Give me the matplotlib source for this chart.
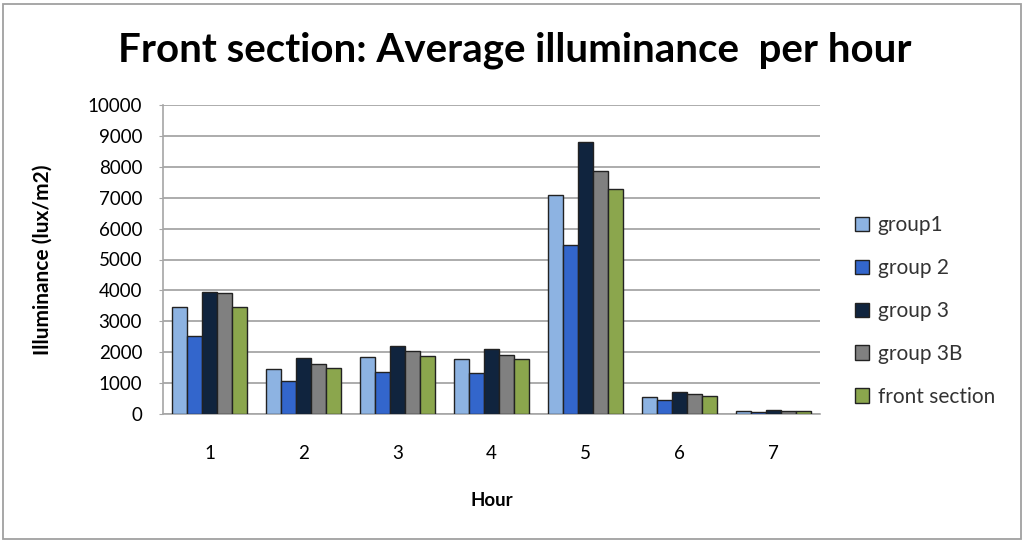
import matplotlib
matplotlib.use("Agg")
import matplotlib.pyplot as plt
from matplotlib.patches import Rectangle
import numpy as np

hours = ["1", "2", "3", "4", "5", "6", "7"]
series_names = ["group1", "group 2", "group 3", "group 3B", "front section"]
group1 = [3470, 1470, 1840, 1780, 7100, 550, 100]
group2 = [2510, 1060, 1350, 1320, 5460, 440, 65]
group3 = [3950, 1810, 2210, 2100, 8810, 700, 140]
group3b = [3900, 1610, 2040, 1920, 7850, 640, 100]
front_section = [3460, 1500, 1870, 1780, 7280, 580, 100]
colors = ["#8DB3E2", "#3366CC", "#10243E", "#808080", "#8BA64D"]

series = [group1, group2, group3, group3b, front_section]

title_font = ["Lato", "DejaVu Sans"]
body_font = ["Lato", "DejaVu Sans"]

fig = plt.figure(figsize=(10.23, 5.41), dpi=100)
ax = fig.add_axes([163 / 1023, 1 - 414 / 541, (820 - 163) / 1023, (414 - 105) / 541])

x = np.arange(len(hours))
bar_w = 0.16
for i, (vals, name, c) in enumerate(zip(series, series_names, colors)):
    ax.bar(x + (i - 2) * bar_w, vals, width=bar_w, color=c,
           edgecolor="#222222", linewidth=1.0, label=name, zorder=3)

ax.set_xlim(-0.5, len(hours) - 0.5)
ax.set_ylim(0, 10000)
ax.set_yticks(np.arange(0, 10001, 1000))
ax.set_xticks(x)
ax.set_xticklabels(hours)
ax.yaxis.grid(True, color="#A6A6A6", linewidth=1.3, zorder=0)
for side in ["top", "right"]:
    ax.spines[side].set_visible(False)
ax.spines["left"].set_color("#A6A6A6")
ax.spines["bottom"].set_color("#A6A6A6")
ax.spines["left"].set_linewidth(1.2)
ax.spines["bottom"].set_linewidth(1.2)
ax.tick_params(axis="y", length=3, color="#A6A6A6", labelsize=13.5, pad=12)
ax.tick_params(axis="x", length=0, labelsize=13.5, pad=22)
for lab in ax.get_xticklabels() + ax.get_yticklabels():
    lab.set_family(body_font)

ax.set_xlabel("Hour", fontsize=13.5, fontweight="bold", family=body_font, labelpad=22)
ax.set_ylabel("Illuminance (lux/m2)", fontsize=15, fontweight="bold",
              family=body_font)
ax.yaxis.set_label_coords((53 - 163) / 657, 0.5)

fig.text(0.503, 1 - 50 / 541, "Front section: Average illuminance  per hour",
         ha="center", va="center", fontsize=29, fontweight="bold", family=title_font)

leg = fig.legend(loc="center left", bbox_to_anchor=(836 / 1023, 1 - 311 / 541),
                 frameon=False, prop={"family": body_font, "size": 15},
                 handlelength=0.68, handleheight=0.68, handletextpad=0.42,
                 labelspacing=1.1)
for t in leg.get_texts():
    t.set_color("#333333")

fig.patches.append(Rectangle((3 / 1023, 2 / 541), 1018 / 1023, 535 / 541,
                             transform=fig.transFigure, fill=False,
                             edgecolor="#A0A0A0", linewidth=1.3))

fig.savefig("out.png", dpi=100)
